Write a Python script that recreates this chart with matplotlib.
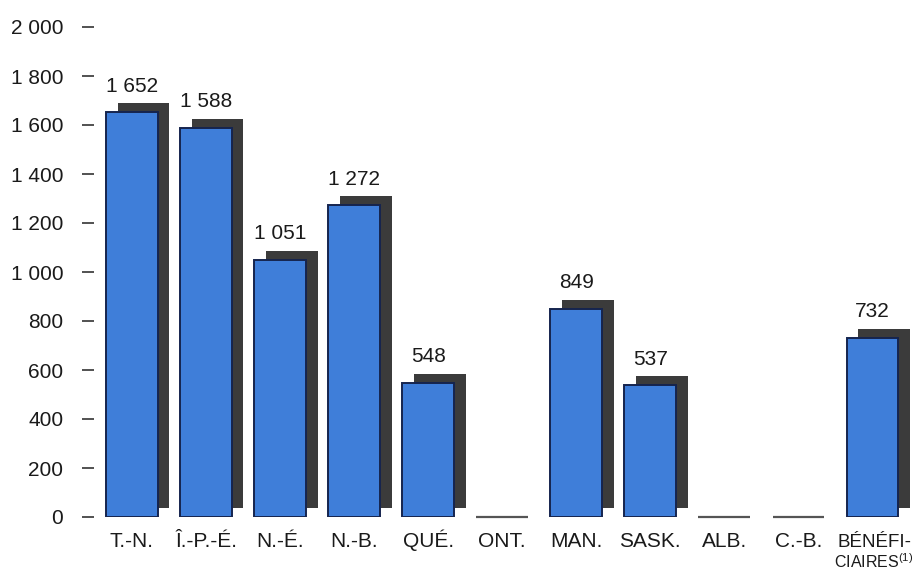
import matplotlib
matplotlib.use("Agg")
import matplotlib.pyplot as plt
import matplotlib.transforms as mtransforms

plt.rcParams["font.family"] = ["Liberation Sans", "DejaVu Sans"]
plt.rcParams["mathtext.fontset"] = "custom"
plt.rcParams["mathtext.rm"] = "Liberation Sans"
plt.rcParams["mathtext.it"] = "Liberation Sans"

categories = ["T.-N.", "Î.-P.-É.", "N.-É.", "N.-B.", "QUÉ.", "ONT.", "MAN.",
              "SASK.", "ALB.", "C.-B.", "BÉNÉFI-\nCIAIRES$^{(1)}$"]
values = [1652, 1588, 1051, 1272, 548, 0, 849, 537, 0, 0, 732]
value_labels = ["1 652", "1 588", "1 051", "1 272", "548", "", "849",
                "537", "", "", "732"]
yticks = [0, 200, 400, 600, 800, 1000, 1200, 1400, 1600, 1800, 2000]
ytick_labels = ["0", "200", "400", "600", "800", "1 000", "1 200", "1 400",
                "1 600", "1 800", "2 000"]

BLUE = "#3f7ed9"
EDGE = "#15244e"
SHADOW = "#3b3b3b"
TEXT = "#1a1a1a"
FS = 15
W = 0.70

fig = plt.figure(figsize=(9.15, 5.70), dpi=100)
ax = fig.add_axes([94 / 915, 53 / 570, 1 - 94 / 915, 490 / 570])
ax.set_xlim(-0.513, 10.574)
ax.set_ylim(0, 2000)

x = list(range(len(categories)))

# drop shadow: same bars shifted right and up by a few pixels
shadow_tr = mtransforms.offset_copy(ax.transData, fig=fig, x=11.5, y=9, units="dots")
nz = [i for i, v in enumerate(values) if v > 0]
shadows = ax.bar([x[i] for i in nz], [values[i] for i in nz], width=W,
                 color=SHADOW, edgecolor="none", zorder=1)
for p in shadows:
    p.set_transform(shadow_tr)
    p.set_clip_on(False)

ax.bar([x[i] for i in nz], [values[i] for i in nz], width=W,
       color=BLUE, edgecolor=EDGE, linewidth=1.4, zorder=2)

# empty categories shown as a short rule on the baseline
for i, v in enumerate(values):
    if v == 0:
        ax.plot([x[i] - W / 2, x[i] + W / 2], [v, v], color="#555555",
                lw=1.6, solid_capstyle="butt", clip_on=False, zorder=2)

for i, (v, lab) in enumerate(zip(values, value_labels)):
    if lab:
        ax.annotate(lab, (x[i], v), xytext=(0, 14.8), textcoords="offset points",
                    ha="center", va="baseline", fontsize=FS, color=TEXT)

# single-line category names as tick labels; the two-line one is set by hand
ax.set_xticks(x)
ax.set_xticklabels(categories[:-1] + [""], fontsize=FS, color=TEXT)
for t in ax.get_xticklabels():
    t.set_verticalalignment("baseline")
first, second = categories[-1].split("\n")
ax.annotate(first, (x[-1], 0), xytext=(1.2, -21.6), textcoords="offset points",
            ha="center", va="baseline", fontsize=13.5, color=TEXT,
            annotation_clip=False)
ax.annotate(second, (x[-1], 0), xytext=(0.5, -36.4), textcoords="offset points",
            ha="center", va="baseline", fontsize=11.5, color=TEXT,
            annotation_clip=False)

ax.set_yticks(yticks)
ax.set_yticklabels(ytick_labels, fontsize=FS, color=TEXT)
ax.tick_params(axis="x", length=0, pad=21.6)
ax.tick_params(axis="y", length=8.6, width=1.1, color="#222222", pad=13.5)

for s in ax.spines.values():
    s.set_visible(False)

fig.savefig("out.png", dpi=100)
